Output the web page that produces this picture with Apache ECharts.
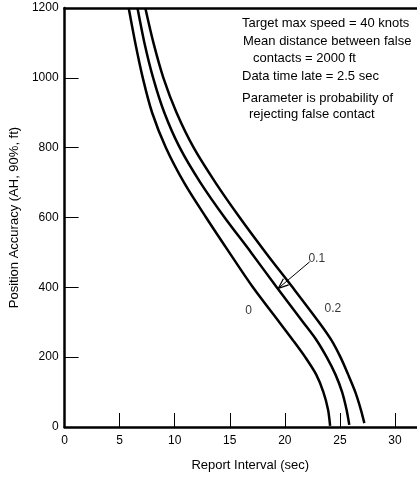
<!DOCTYPE html>
<html>
<head>
<meta charset="utf-8">
<script src="https://cdn.jsdelivr.net/npm/echarts@6/dist/echarts.min.js"></script>
<style>
html,body{margin:0;padding:0;background:#fff;}
#chart{width:417px;height:477px;}
</style>
</head>
<body>
<div id="chart"></div>
<script>
// Curve data: [report interval (sec), position accuracy (ft)]
const curveP0 = [[5.82,1200],[6.42,1100],[7.1,1000],[7.95,900],[9.2,800],[10.85,700],[12.85,600],[14.95,500],[17.1,400],[19.5,300],[20.7,250],[21.85,200],[22.85,150],[23.5,100],[23.92,50],[24.11,3]];
const curveP01 = [[6.62,1200],[7.25,1100],[8.04,1000],[9.06,900],[10.46,800],[12.33,700],[14.53,600],[16.93,500],[19.26,400],[21.66,300],[22.85,250],[23.8,200],[24.6,150],[25.2,100],[25.6,50],[25.85,6]];
const curveP02 = [[7.33,1200],[8.07,1100],[8.97,1000],[10.17,900],[11.72,800],[13.7,700],[15.9,600],[18.25,500],[20.7,400],[23.1,300],[24.2,250],[25.05,200],[25.75,150],[26.4,100],[26.9,50],[27.22,11]];
const curveLabels = [[16.7,333,'0'],[22.9,482,'0.1'],[24.36,338,'0.2']];
const arrowTail = [22.25,473];
const arrowTip = [19.4,397];
const xTicks = [0,5,10,15,20,25,30];
const yTicks = [0,200,400,600,800,1000,1200];
const noteLines = ['Target max speed = 40 knots','Mean distance between false','contacts = 2000 ft','Data time late = 2.5 sec','Parameter is probability of','rejecting false contact'];

const FONT = '"Liberation Sans", Arial, Helvetica, sans-serif';
const chart = echarts.init(document.getElementById('chart'));

function lineSeries(data){
  return {type:'line', data:data, smooth:0.3, symbol:'none', xAxisIndex:0, yAxisIndex:0,
    lineStyle:{color:'#000', width:2.5}, silent:true, z:3};
}

const notePos = [[242,25],[243,43],[253,60],[242,78],[242,100],[249,116]];

const option = {
  animation:false,
  backgroundColor:'#fff',
  grid:{left:57, right:0, top:8, bottom:43, containLabel:false},
  xAxis:[{
    type:'value', min:0, max:32, interval:5, position:'bottom',
    name:'Report Interval (sec)', nameLocation:'middle', nameGap:32,
    nameTextStyle:{fontFamily:FONT, fontSize:13, color:'#000', padding:[0,0,0,19]},
    axisLine:{show:true, onZero:false, lineStyle:{color:'#000', width:2.5}},
    axisTick:{show:true, inside:true, length:14, lineStyle:{color:'#000', width:1}},
    axisLabel:{fontFamily:FONT, fontSize:12, color:'#000', margin:8, showMaxLabel:false,
      formatter:function(v){return xTicks.indexOf(v)>=0 ? String(v) : '';}},
    splitLine:{show:false}
  },{
    type:'value', min:0, max:32, position:'top',
    axisLine:{show:true, onZero:false, lineStyle:{color:'#000', width:2.5}},
    axisTick:{show:false}, axisLabel:{show:false}, splitLine:{show:false}
  }],
  yAxis:[{
    type:'value', min:0, max:1200, interval:200,
    name:'Position Accuracy (AH, 90%, ft)', nameLocation:'middle', nameGap:38,
    nameTextStyle:{fontFamily:FONT, fontSize:13, color:'#000'},
    axisLine:{show:true, onZero:false, lineStyle:{color:'#000', width:2.5}},
    axisTick:{show:true, inside:true, length:14, lineStyle:{color:'#000', width:1}},
    axisLabel:{fontFamily:FONT, fontSize:12, color:'#000', margin:6,
      formatter:function(v){return yTicks.indexOf(v)>=0 ? String(v) : '';}},
    splitLine:{show:false}
  }],
  series:[
    lineSeries(curveP0),
    lineSeries(curveP01),
    lineSeries(curveP02),
    {type:'scatter', data:curveLabels, symbolSize:0, silent:true,
      label:{show:true, position:'inside', formatter:function(p){return p.data[2];},
        fontFamily:FONT, fontSize:12, color:'#000'}},
    {type:'custom', silent:true, data:[[arrowTail[0],arrowTail[1],arrowTip[0],arrowTip[1]]],
      renderItem:function(params, api){
        const a = api.coord([api.value(0), api.value(1)]);
        const b = api.coord([api.value(2), api.value(3)]);
        const ang = Math.atan2(b[1]-a[1], b[0]-a[0]);
        const L = 11, w = 0.38;
        const h1 = [b[0]-L*Math.cos(ang-w), b[1]-L*Math.sin(ang-w)];
        const h2 = [b[0]-L*Math.cos(ang+w), b[1]-L*Math.sin(ang+w)];
        return {type:'group', children:[
          {type:'line', shape:{x1:a[0],y1:a[1],x2:b[0],y2:b[1]}, style:{stroke:'#000', lineWidth:1}},
          {type:'polyline', shape:{points:[h1,b,h2]}, style:{stroke:'#000', lineWidth:1.2, fill:null}}
        ]};
      }}
  ],
  graphic: noteLines.map(function(t,i){
    return {type:'text', left:notePos[i][0], top:notePos[i][1]-8,
      style:{text:t, font:'13px '+FONT, fill:'#000'}};
  })
};
chart.setOption(option);
</script>
</body>
</html>
